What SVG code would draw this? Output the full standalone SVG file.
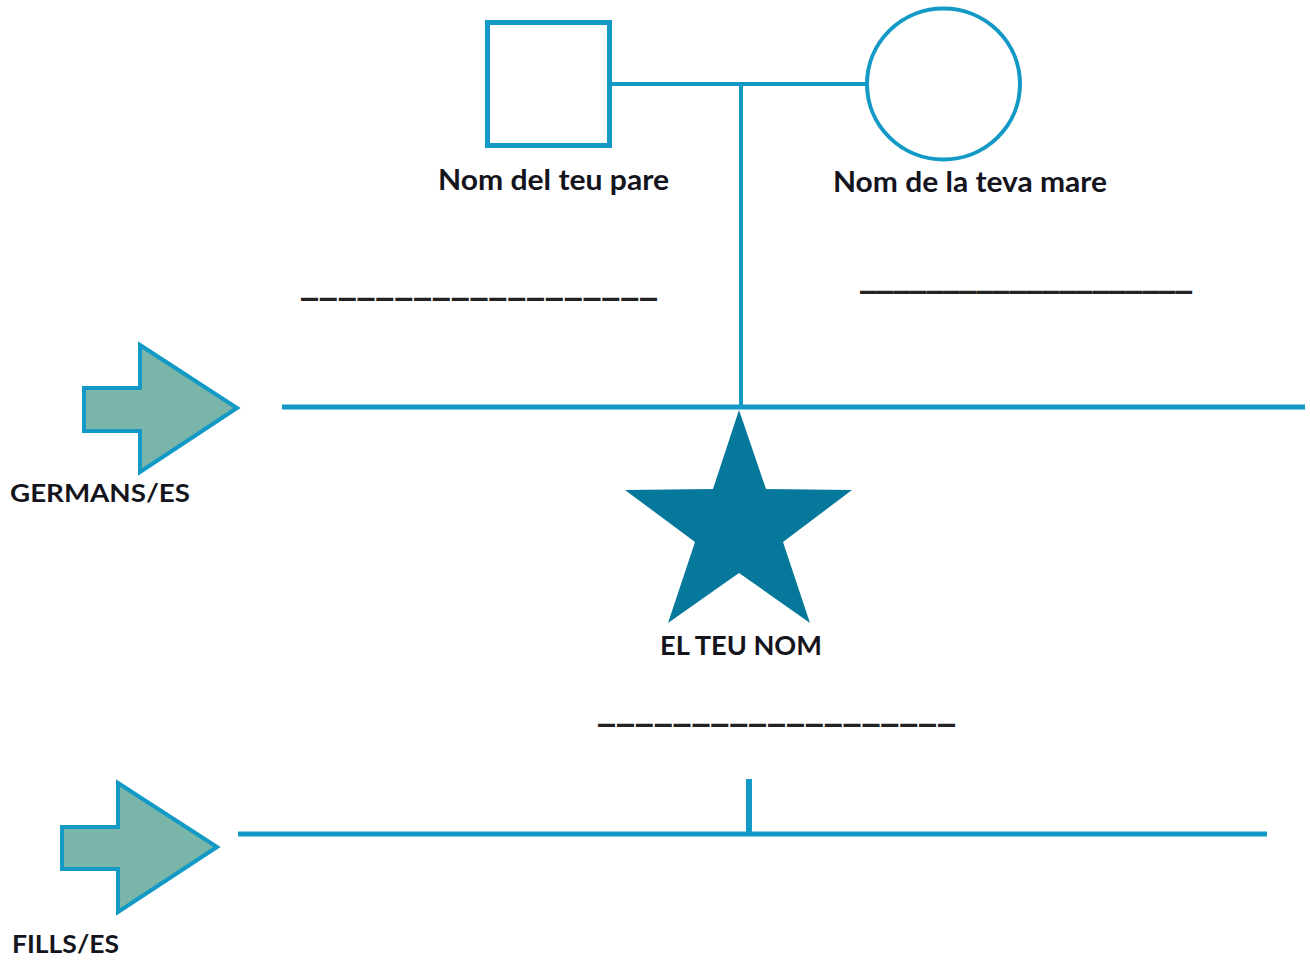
<svg xmlns="http://www.w3.org/2000/svg" width="1310" height="967" viewBox="0 0 1310 967">
<style>
.ln{stroke:#1399c6;fill:none;stroke-linecap:butt}
.lbl{font-family:Lato,"Open Sans","Liberation Sans",sans-serif;font-weight:700;fill:#14141c}
.blank{font-family:"DejaVu Sans",sans-serif;font-weight:700;font-size:34px;fill:#222}
.arrow{fill:#7ab5a9;stroke:#1399c6;stroke-width:4;stroke-linejoin:miter}
</style>
<rect width="1310" height="967" fill="#ffffff"/>
<g id="connectors">
<line class="ln" x1="612" y1="84" x2="866" y2="84" stroke-width="4"/>
<line class="ln" x1="741" y1="84" x2="741" y2="409" stroke-width="4"/>
<line class="ln" x1="282" y1="407" x2="1305" y2="407" stroke-width="5"/>
<line class="ln" x1="238" y1="834" x2="1267" y2="834" stroke-width="5"/>
<line class="ln" x1="749" y1="779" x2="749" y2="834" stroke-width="6"/>
</g>
<g id="father">
<rect x="487.5" y="22.5" width="122" height="123" fill="none" stroke="#1399c6" stroke-width="5"/>
<text class="lbl" x="438" y="190" font-size="28" textLength="231" lengthAdjust="spacingAndGlyphs">Nom del teu pare</text>
<text class="blank" x="301" y="292.5" textLength="356" lengthAdjust="spacing">___________________</text>
</g>
<g id="mother">
<ellipse cx="943.5" cy="84" rx="76.5" ry="75.5" fill="none" stroke="#1399c6" stroke-width="4"/>
<text class="lbl" x="833" y="192" font-size="28" textLength="274" lengthAdjust="spacingAndGlyphs">Nom de la teva mare</text>
<text class="blank" x="860" y="285.5" textLength="332" lengthAdjust="spacingAndGlyphs">____________________</text>
</g>
<g id="siblings">
<polygon class="arrow" points="84,388 140,388 140,345 237,408 140,472 140,431 84,431"/>
<text class="lbl" x="10" y="502" font-size="24" textLength="180" lengthAdjust="spacingAndGlyphs">GERMANS/ES</text>
</g>
<g id="you">
<polygon fill="#06789b" points="739,410 766,489 852,490 783,542 810,623 739,573 668,623 695,542 625,490 713,489"/>
<text class="lbl" x="660" y="655" font-size="26" textLength="162" lengthAdjust="spacingAndGlyphs">EL TEU NOM</text>
<text class="blank" x="598" y="718.5" textLength="357" lengthAdjust="spacing">___________________</text>
</g>
<g id="children">
<polygon class="arrow" points="62,827 118,827 118,783 217,847 118,912 118,869 62,869"/>
<text class="lbl" x="12" y="953" font-size="25" textLength="107" lengthAdjust="spacingAndGlyphs">FILLS/ES</text>
</g>
</svg>
